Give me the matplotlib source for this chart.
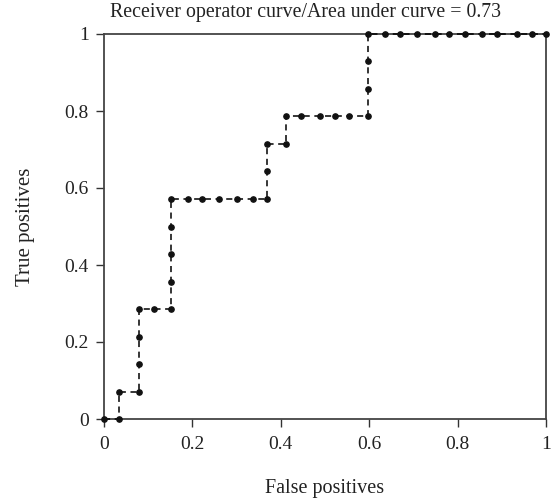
import matplotlib
matplotlib.use("Agg")
import matplotlib.pyplot as plt

# ROC points (false positive rate, true positive rate)
fpr = [0.0, 0.035, 0.035, 0.080, 0.080, 0.080, 0.080, 0.113, 0.151, 0.151,
       0.151, 0.151, 0.151, 0.189, 0.222, 0.261, 0.300, 0.336, 0.369, 0.369,
       0.369, 0.411, 0.411, 0.446, 0.489, 0.522, 0.555, 0.597, 0.597, 0.597,
       0.597, 0.636, 0.670, 0.708, 0.748, 0.781, 0.816, 0.855, 0.890, 0.934,
       0.969, 1.0]
tpr = [0.0, 0.0, 0.071, 0.071, 0.143, 0.214, 0.286, 0.286, 0.286, 0.357,
       0.429, 0.500, 0.571, 0.571, 0.571, 0.571, 0.571, 0.571, 0.571, 0.643,
       0.714, 0.714, 0.786, 0.786, 0.786, 0.786, 0.786, 0.786, 0.857, 0.929,
       1.0, 1.0, 1.0, 1.0, 1.0, 1.0, 1.0, 1.0, 1.0, 1.0,
       1.0, 1.0]

ticks = [0, 0.2, 0.4, 0.6, 0.8, 1]
tick_labels = ["0", "0.2", "0.4", "0.6", "0.8", "1"]
title = "Receiver operator curve/Area under curve = 0.73"

plt.rcParams['font.family'] = ['Liberation Serif', 'DejaVu Serif']

fig = plt.figure(figsize=(5.55, 5.0), dpi=100)
ax = fig.add_axes([0.1874, 0.162, 0.7964, 0.770])

ax.plot(fpr, tpr, linestyle=(0, (4, 3)), color='black', linewidth=1.1,
        marker='o', markersize=3.8, markerfacecolor='#111111',
        markeredgecolor='#111111', clip_on=False, zorder=3)

ax.set_xlim(0, 1)
ax.set_ylim(0, 1)
ax.set_xticks(ticks)
ax.set_xticklabels(tick_labels)
ax.set_yticks(ticks)
ax.set_yticklabels(tick_labels)
ax.tick_params(axis='both', direction='out', length=6, width=1.0,
               labelsize=14, color='#333333', labelcolor='#222222', pad=5)
ax.tick_params(axis='x', pad=6)
for s in ax.spines.values():
    s.set_color('#444444')
    s.set_linewidth(1.3)

ax.set_xlabel("False positives", fontsize=14.5, color='#222222', labelpad=19)
ax.set_ylabel("True positives", fontsize=15, color='#222222', labelpad=21)
fig.text(306 / 555, 1 - 13 / 500, title, fontsize=14.3, color='#222222',
         ha='center', va='center')

fig.savefig("out.png", dpi=100)
